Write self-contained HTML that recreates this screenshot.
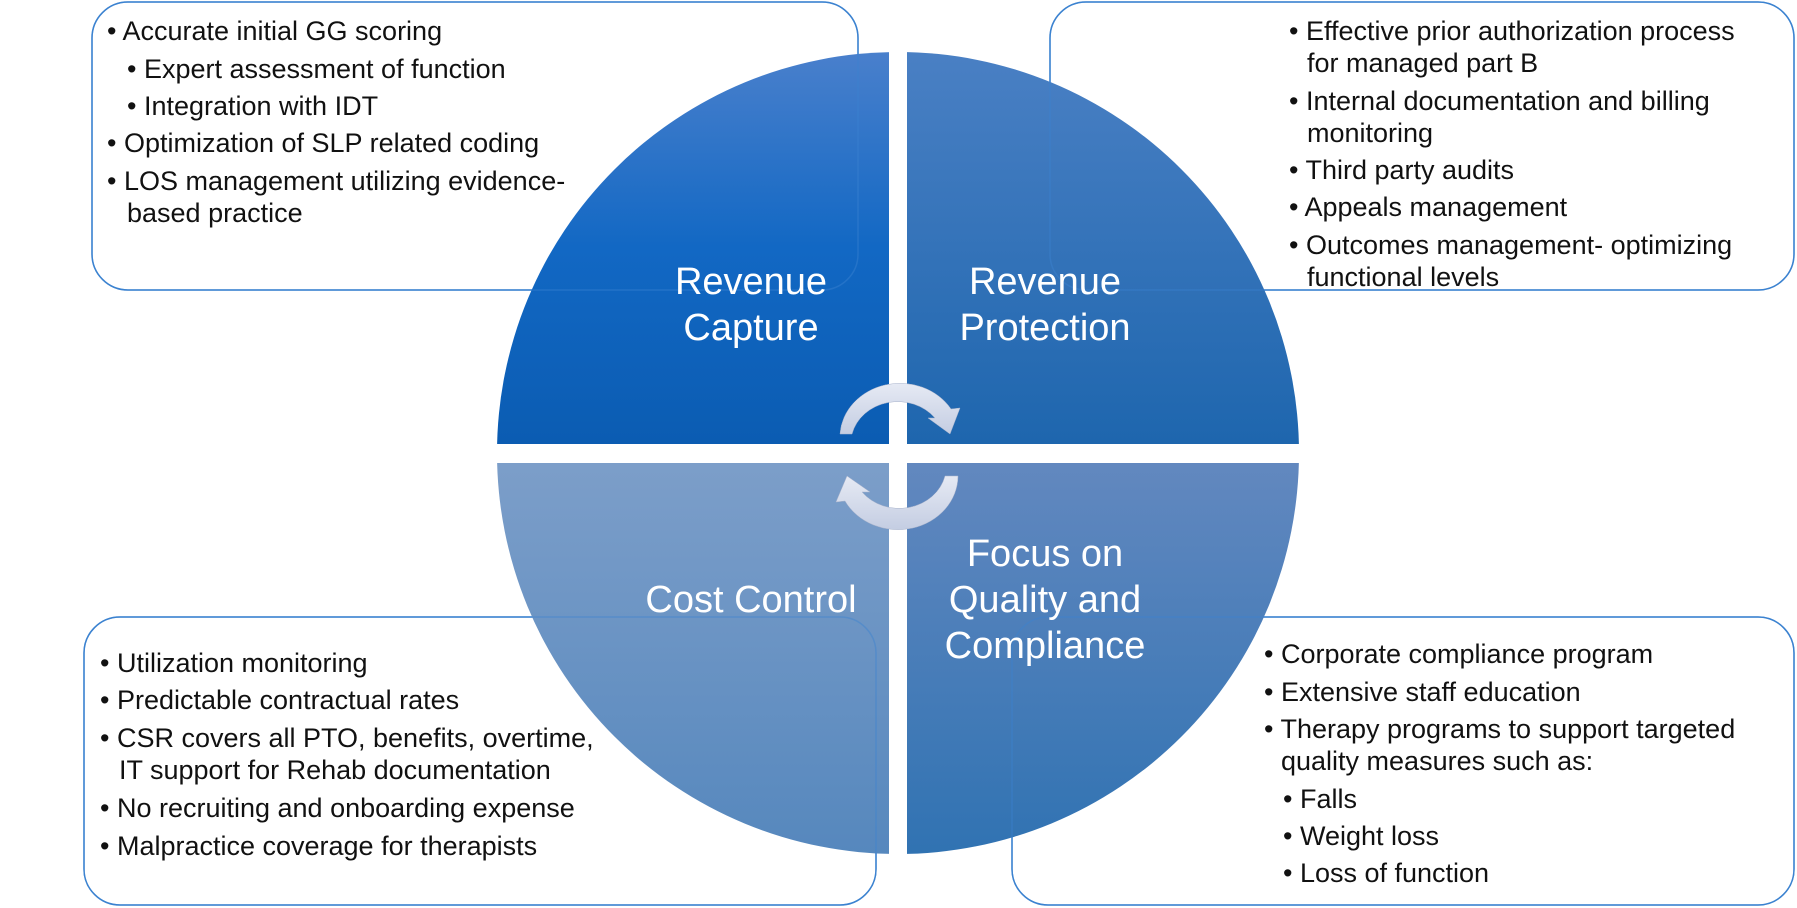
<!DOCTYPE html>
<html><head><meta charset="utf-8"><style>
html,body{margin:0;padding:0;background:#fff;width:1797px;height:908px;overflow:hidden}
svg{display:block}
.t{font-family:"Liberation Sans",sans-serif;font-size:27px;fill:#111}
.l{font-family:"Liberation Sans",sans-serif;font-size:38px;fill:#fff;text-anchor:middle}
</style></head><body>
<svg width="1797" height="908" viewBox="0 0 1797 908" xmlns="http://www.w3.org/2000/svg">
<defs>
<clipPath id="c"><circle cx="898" cy="453" r="401"/></clipPath>
<linearGradient id="g1" x1="0" y1="0" x2="0" y2="1"><stop offset="0" stop-color="#4a80cc"/><stop offset="0.5" stop-color="#1268c4"/><stop offset="1" stop-color="#0b5cb2"/></linearGradient>
<linearGradient id="g2" x1="0" y1="0" x2="0" y2="1"><stop offset="0" stop-color="#4a80c4"/><stop offset="1" stop-color="#1e66ae"/></linearGradient>
<linearGradient id="g3" x1="0" y1="0" x2="0" y2="1"><stop offset="0" stop-color="#7c9ec9"/><stop offset="1" stop-color="#5587bd"/></linearGradient>
<linearGradient id="g4" x1="0" y1="0" x2="0" y2="1"><stop offset="0" stop-color="#6288bf"/><stop offset="1" stop-color="#2f72b2"/></linearGradient>
<linearGradient id="ga" x1="0" y1="0" x2="0" y2="1"><stop offset="0" stop-color="#e6eaf4"/><stop offset="1" stop-color="#c4cde2"/></linearGradient>
</defs>
<g fill="#fff" stroke="#3b82d0" stroke-width="1.5">
<rect x="92" y="2" width="766" height="288" rx="36"/>
<rect x="1050" y="2" width="744" height="288" rx="36"/>
<rect x="84" y="617" width="792" height="288" rx="36"/>
<rect x="1012" y="617" width="782" height="288" rx="36"/>
</g>
<g clip-path="url(#c)">
<rect x="490" y="50" width="399" height="394" fill="url(#g1)"/>
<rect x="907" y="50" width="400" height="394" fill="url(#g2)"/>
<rect x="490" y="463" width="399" height="400" fill="url(#g3)"/>
<rect x="907" y="463" width="400" height="400" fill="url(#g4)"/>
</g>
<g fill="none" stroke="#3b82d0" stroke-width="1.5" opacity="0.45">
<rect x="92" y="2" width="766" height="288" rx="36"/>
<rect x="1050" y="2" width="744" height="288" rx="36"/>
<rect x="84" y="617" width="792" height="288" rx="36"/>
<rect x="1012" y="617" width="782" height="288" rx="36"/>
</g>
<path d="M840 434 L852 434 A47 42 0 0 1 935 418 L928 418 L950 434 L960 408 L951 409 A60 54 0 0 0 840 434 Z" fill="url(#ga)" stroke="#aab4cc" stroke-width="0.5"/>
<path d="M958 476 L945 476 A47 42 0 0 1 862 492 L870 492 L847 476 L836 502 L845 501 A60 54 0 0 0 958 476 Z" fill="url(#ga)" stroke="#aab4cc" stroke-width="0.5"/>
<text class="l" x="751" y="294">Revenue</text>
<text class="l" x="751" y="340">Capture</text>
<text class="l" x="1045" y="294">Revenue</text>
<text class="l" x="1045" y="340">Protection</text>
<text class="l" x="751" y="612">Cost Control</text>
<text class="l" x="1045" y="566">Focus on</text>
<text class="l" x="1045" y="612">Quality and</text>
<text class="l" x="1045" y="658">Compliance</text>
<g class="t">
<text x="107" y="40">• Accurate initial GG scoring</text>
<text x="127" y="78">• Expert assessment of function</text>
<text x="127" y="115">• Integration with IDT</text>
<text x="107" y="152">• Optimization of SLP related coding</text>
<text x="107" y="190">• LOS management utilizing evidence-</text>
<text x="127" y="222">based practice</text>
<text x="1289" y="40">• Effective prior authorization process</text>
<text x="1307" y="72">for managed part B</text>
<text x="1289" y="110">• Internal documentation and billing</text>
<text x="1307" y="142">monitoring</text>
<text x="1289" y="179">• Third party audits</text>
<text x="1289" y="216">• Appeals management</text>
<text x="1289" y="254">• Outcomes management- optimizing</text>
<text x="1307" y="286">functional levels</text>
<text x="100" y="672">• Utilization monitoring</text>
<text x="100" y="709">• Predictable contractual rates</text>
<text x="100" y="747">• CSR covers all PTO, benefits, overtime,</text>
<text x="119" y="779">IT support for Rehab documentation</text>
<text x="100" y="817">• No recruiting and onboarding expense</text>
<text x="100" y="855">• Malpractice coverage for therapists</text>
<text x="1264" y="663">• Corporate compliance program</text>
<text x="1264" y="701">• Extensive staff education</text>
<text x="1264" y="738">• Therapy programs to support targeted</text>
<text x="1281" y="770">quality measures such as:</text>
<text x="1283" y="808">• Falls</text>
<text x="1283" y="845">• Weight loss</text>
<text x="1283" y="882">• Loss of function</text>
</g>
</svg>
</body></html>
